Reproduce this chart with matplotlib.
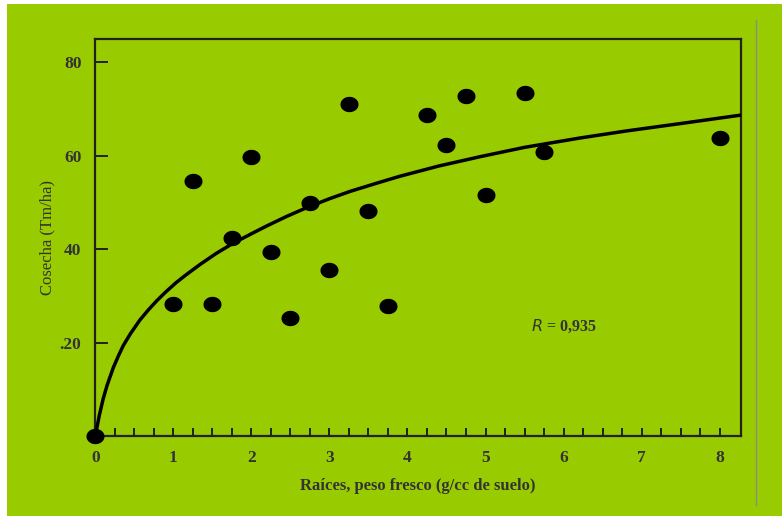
import numpy as np
import matplotlib
matplotlib.use("Agg")
import matplotlib.pyplot as plt
from matplotlib.patches import Rectangle
from matplotlib.lines import Line2D

# root fresh weight (g/cc of soil) and yield (Tm/ha)
raices = [0, 1.0, 1.25, 1.5, 1.75, 2.0, 2.25, 2.5, 2.75, 3.0, 3.25, 3.5, 3.75,
          4.25, 4.5, 4.75, 5.0, 5.5, 5.75, 8.0]
cosecha = [0, 28.3, 54.5, 28.3, 42.4, 59.7, 39.4, 25.3, 49.8, 35.5, 71.0, 48.1, 27.9,
           68.7, 62.2, 72.9, 51.7, 73.4, 60.8, 63.9]

# fitted curve, read along its length
curva_x = [0, 0.05, 0.1, 0.15, 0.23, 0.3, 0.36, 0.45, 0.57, 0.68, 0.79, 0.9, 1.04,
           1.17, 1.34, 1.55, 1.77, 2.0, 2.2, 2.45, 2.71, 3.0, 3.27, 3.6, 3.9, 4.4,
           4.93, 5.5, 6.21, 6.8, 7.5, 8.27]
curva_y = [0, 4.3, 7.9, 10.8, 14.6, 17.3, 19.4, 21.9, 24.8, 27.0, 29.0, 30.8, 32.9,
           34.6, 36.7, 39.1, 41.3, 43.3, 45.0, 47.0, 48.9, 50.8, 52.4, 54.1, 55.6, 57.8,
           59.8, 61.8, 63.8, 65.3, 66.9, 68.7]

y_ticks = [20, 40, 60, 80]
y_labels = [".20", "40", "60", "80"]
x_labels = ["0", "1", "2", "3", "4", "5", "6", "7", "8"]

verde = "#99cc00"
tinta = "#333333"
plt.rcParams["font.family"] = ["Liberation Serif", "DejaVu Serif"]

fig = plt.figure(figsize=(7.82, 5.16), dpi=100)
fig.patch.set_facecolor("white")
fig.add_artist(Rectangle((7 / 782, 0), 775 / 782, 512 / 516, transform=fig.transFigure,
                         facecolor=verde, edgecolor="none", zorder=-10))
fig.add_artist(Line2D([756 / 782, 756 / 782], [1 - 505 / 516, 1 - 20 / 516],
                      transform=fig.transFigure, color="#8a8a8a", lw=1))

ax = fig.add_axes([95.3 / 782, 1 - 436 / 516, (740.7 - 95.3) / 782, (436 - 39) / 516])
ax.set_facecolor("none")
ax.set_xlim(0, 8.27)
ax.set_ylim(0, 85)

ax.plot(curva_x, curva_y, color="black", lw=2.5, solid_capstyle="round",
        solid_joinstyle="round", zorder=3)

t = np.linspace(0, 2 * np.pi, 40)
oval = np.column_stack([np.cos(t), 0.84 * np.sin(t)])
ax.plot(raices, cosecha, linestyle="none", marker=oval, ms=12, color="black",
        clip_on=False, zorder=4)

for s in ax.spines.values():
    s.set_color("#222222")
    s.set_linewidth(1.6)

ax.set_xticks(np.arange(0.25, 8.01, 0.25), minor=True)
ax.set_xticks(range(9))
ax.set_xticklabels(x_labels)
ax.tick_params(axis="x", which="both", direction="in", length=5.5, width=1.4,
               color="#222222", pad=10)
ax.set_yticks(y_ticks)
ax.set_yticklabels(y_labels)
ax.tick_params(axis="y", direction="in", length=9.5, width=1.4, color="#222222", pad=10)
for lab in ax.get_xticklabels() + ax.get_yticklabels():
    lab.set_fontsize(12.5)
    lab.set_fontweight("bold")
    lab.set_color(tinta)

ax.set_xlabel("Raíces, peso fresco (g/cc de suelo)", fontsize=12, fontweight="bold",
              color=tinta, labelpad=9)
ax.set_ylabel("Cosecha (Tm/ha)", fontsize=12, color=tinta, labelpad=3)

ax.text(6.0, 23.5, r"$\mathit{R}$ = 0,935", fontsize=11.5, fontweight="bold", color=tinta,
        ha="center", va="center")

fig.savefig("out.png", dpi=100)
